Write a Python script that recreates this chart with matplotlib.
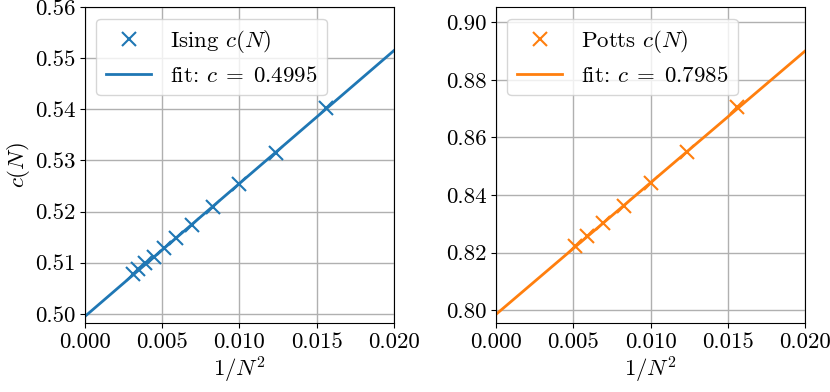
import numpy as np
import matplotlib
matplotlib.use("Agg")
import matplotlib.pyplot as plt

plt.rcParams.update({
    "font.family": "serif",
    "font.serif": ["cmr10"],
    "mathtext.fontset": "cm",
    "axes.formatter.use_mathtext": True,
    "font.size": 16.5,
})

# Ising data, N = 8..18
ising_N = np.arange(8, 19)
ising_c = [0.5402, 0.5314, 0.5254, 0.5209, 0.5174, 0.5149, 0.5128,
           0.5112, 0.5099, 0.5088, 0.5078]
ising_fit_c = 0.4995
ising_fit_slope = 2.60

# Potts data, N = 8..14
potts_N = np.arange(8, 15)
potts_c = [0.8704, 0.8550, 0.8442, 0.8362, 0.8303, 0.8258, 0.8222]
potts_fit_c = 0.7985
potts_fit_slope = 4.575

x_fit = np.array([0.0, 0.02])

fig = plt.figure(figsize=(8.3, 3.92), dpi=100)
ax1 = fig.add_axes([0.1024, 0.176, 0.3723, 0.806])
ax2 = fig.add_axes([0.5976, 0.176, 0.3723, 0.806])

panels = [
    (ax1, ising_N, ising_c, ising_fit_c, ising_fit_slope, "C0", "Ising",
     (0.4982, 0.56), np.arange(0.50, 0.561, 0.01)),
    (ax2, potts_N, potts_c, potts_fit_c, potts_fit_slope, "C1", "Potts",
     (0.7955, 0.9053), np.arange(0.80, 0.901, 0.02)),
]

for ax, N, c, c0, slope, col, name, ylim, yticks in panels:
    x = 1.0 / N.astype(float) ** 2
    ax.plot(x, c, "x", color=col, markersize=10, markeredgewidth=1.5,
            label=name + r" $c(N)$")
    ax.plot(x_fit, c0 + slope * x_fit, "-", color=col, linewidth=2,
            label=r"fit: $c\;=\;%.4f$" % c0)
    ax.set_xlim(0, 0.02)
    ax.set_ylim(*ylim)
    ax.set_xticks([0.0, 0.005, 0.010, 0.015, 0.020])
    ax.set_xticklabels(["0.000", "0.005", "0.010", "0.015", "0.020"])
    ax.set_yticks(yticks)
    ax.set_yticklabels(["%.2f" % v for v in yticks])
    ax.grid(True, color="#b0b0b0", linewidth=1)
    ax.set_axisbelow(True)
    ax.set_xlabel(r"$1/N^2$", labelpad=2)
    ax.legend(loc="upper left", handlelength=2.0, borderaxespad=0.5)

ax1.set_ylabel(r"$c(N)$", labelpad=2)

fig.savefig("out.png", dpi=100)
